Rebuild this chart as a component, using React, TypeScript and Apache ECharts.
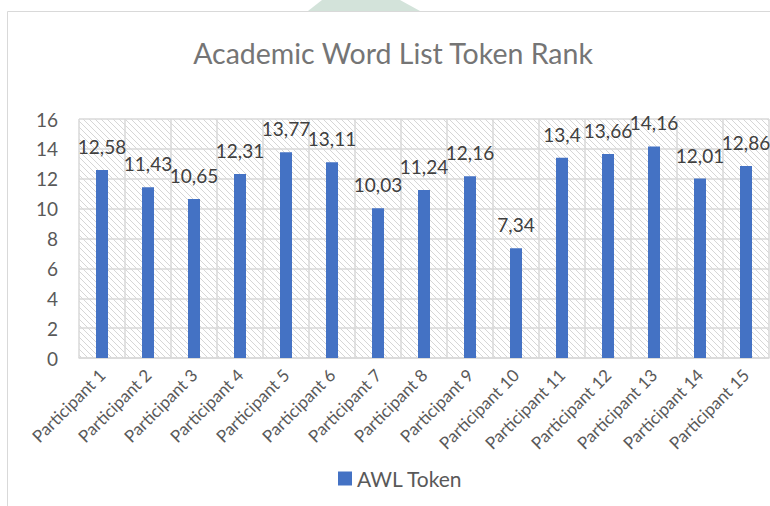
import React, { useEffect, useRef } from "react";
import * as echarts from "echarts";

const categories = [
  "Participant 1", "Participant 2", "Participant 3", "Participant 4", "Participant 5",
  "Participant 6", "Participant 7", "Participant 8", "Participant 9", "Participant 10",
  "Participant 11", "Participant 12", "Participant 13", "Participant 14", "Participant 15",
];
const awlToken = [12.58, 11.43, 10.65, 12.31, 13.77, 13.11, 10.03, 11.24, 12.16, 7.34, 13.4, 13.66, 14.16, 12.01, 12.86];
const seriesName = "AWL Token";
const titleText = "Academic Word List Token Rank";

function makeHatch(): string {
  const size = 6;
  const c = document.createElement("canvas");
  c.width = size;
  c.height = size;
  const ctx = c.getContext("2d")!;
  ctx.fillStyle = "#ffffff";
  ctx.fillRect(0, 0, size, size);
  ctx.strokeStyle = "#d6d6d6";
  ctx.lineWidth = 1;
  ctx.beginPath();
  ctx.moveTo(-1, -1);
  ctx.lineTo(size + 1, size + 1);
  ctx.moveTo(-1, size - 1);
  ctx.lineTo(1, size + 1);
  ctx.moveTo(size - 1, -1);
  ctx.lineTo(size + 1, 1);
  ctx.stroke();
  return c.toDataURL();
}

export default function App() {
  const ref = useRef<HTMLDivElement>(null);
  useEffect(() => {
    if (!ref.current) return;
    const chart = echarts.init(ref.current, undefined, { renderer: "svg" });
    const font = "Lato, 'Open Sans', sans-serif";
    chart.setOption({
      animation: false,
      backgroundColor: "#ffffff",
      textStyle: { fontFamily: font },
      graphic: [
        {
          type: "polygon",
          shape: { points: [[308, 11], [322, 0], [400, 0], [420, 11]] },
          style: { fill: "#d3e3da" },
          z: -10,
        },
        {
          type: "rect",
          shape: { x: 7.5, y: 11.5, width: 800, height: 600 },
          style: { fill: "none", stroke: "#d9d9d9", lineWidth: 1 },
          z: -5,
        },
      ],
      title: {
        text: titleText,
        left: 388,
        textAlign: "center",
        top: 33,
        textStyle: { color: "#757575", fontSize: 28.5, fontWeight: "normal", fontFamily: font },
      },
      legend: {
        left: 333,
        top: 463,
        itemWidth: 14,
        itemHeight: 14,
        icon: "rect",
        itemGap: 6,
        textStyle: { color: "#595959", fontSize: 21, fontFamily: font },
        data: [seriesName],
      },
      grid: {
        left: 79,
        top: 119,
        right: 1,
        bottom: 148,
        show: true,
        borderWidth: 0,
        backgroundColor: { image: makeHatch(), repeat: "repeat" },
      },
      xAxis: {
        type: "category",
        data: categories,
        axisLine: { show: true, lineStyle: { color: "#d9d9d9", width: 1.5 } },
        axisTick: { show: false },
        splitLine: { show: true, interval: 0, lineStyle: { color: "#d9d9d9", width: 1.5 } },
        axisLabel: {
          interval: 0,
          rotate: 45,
          margin: 14,
          color: "#595959",
          fontSize: 17,
          fontFamily: font,
        },
      },
      yAxis: {
        type: "value",
        min: 0,
        max: 16,
        interval: 2,
        axisLine: { show: false },
        axisTick: { show: false },
        splitLine: { show: true, lineStyle: { color: "#d9d9d9", width: 1.5 } },
        axisLabel: { color: "#595959", fontSize: 19, margin: 21, fontFamily: font },
      },
      series: [
        {
          name: seriesName,
          type: "bar",
          data: awlToken,
          barWidth: 12,
          itemStyle: { color: "#4472C4" },
          label: {
            show: true,
            position: "top",
            distance: 14,
            color: "#404040",
            fontSize: 19,
            fontFamily: font,
            formatter: (p: any) => String(p.value).replace(".", ","),
          },
        },
      ],
    });
    return () => chart.dispose();
  }, []);
  return (
    <div
      ref={ref}
      style={{ position: "fixed", left: 0, top: 0, width: 770, height: 506 }}
    />
  );
}
